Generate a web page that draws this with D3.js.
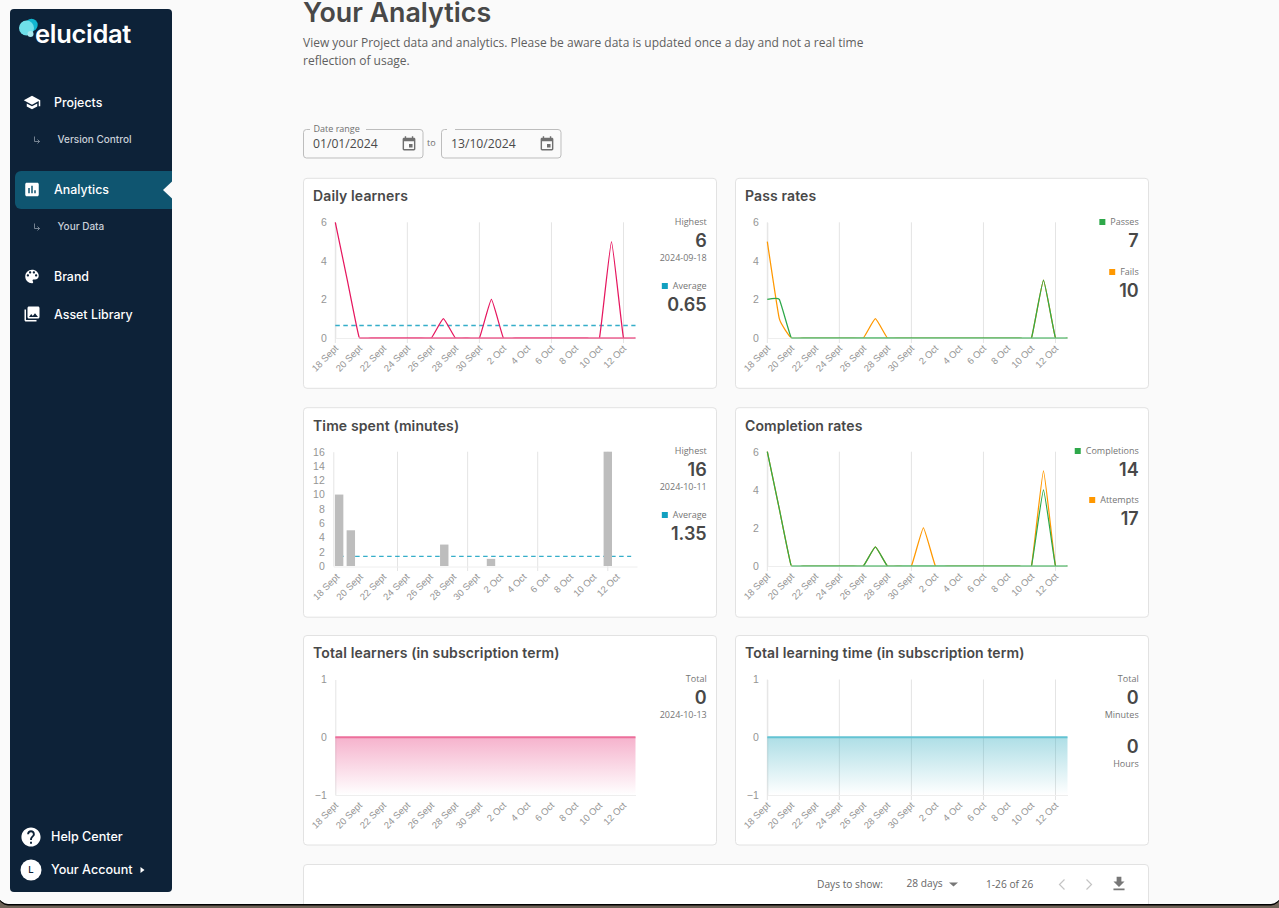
<!DOCTYPE html>
<html>
<head>
<meta charset="utf-8">
<style>
    html, body { margin: 0; padding: 0; background: #6e6357; overflow: hidden; }
    svg { display: block; }
    .head { font-family: Inter, sans-serif; font-weight: 600; fill: #484848; }
    .nav { font-family: Inter, sans-serif; font-weight: 500; fill: #fff; }
    .body { font-family: "Open Sans", sans-serif; fill: #5f5f5f; }
    .tick text { font-family: "Liberation Sans", sans-serif; font-size: 9.5px; fill: #959595; }
</style>
</head>
<body>
<svg id="page" width="1279" height="908"></svg>
<script src="https://cdn.jsdelivr.net/npm/d3@7"></script>
<script>
var days = ["18 Sept","19 Sept","20 Sept","21 Sept","22 Sept","23 Sept","24 Sept","25 Sept","26 Sept","27 Sept","28 Sept","29 Sept","30 Sept",
    "1 Oct","2 Oct","3 Oct","4 Oct","5 Oct","6 Oct","7 Oct","8 Oct","9 Oct","10 Oct","11 Oct","12 Oct","13 Oct"];
var gridDays = ["18 Sept","24 Sept","30 Sept","6 Oct","12 Oct"];
var gridDaysBar = ["23 Sept","29 Sept","5 Oct","11 Oct"];
var labelDays = days.filter(function(d, i){ return i % 2 == 0 });

var dailyLearners = [6,3,0,0,0,0,0,0,0,1,0,0,0,2,0,0,0,0,0,0,0,0,0,5,0,0];
var passes        = [2,2,0,0,0,0,0,0,0,0,0,0,0,0,0,0,0,0,0,0,0,0,0,3,0,0];
var fails         = [5,1,0,0,0,0,0,0,0,1,0,0,0,0,0,0,0,0,0,0,0,0,0,3,0,0];
var timeSpent     = [10,5,0,0,0,0,0,0,0,3,0,0,0,1,0,0,0,0,0,0,0,0,0,16,0,0];
var completions   = [6,3,0,0,0,0,0,0,0,1,0,0,0,0,0,0,0,0,0,0,0,0,0,4,0,0];
var attempts      = [6,3,0,0,0,0,0,0,0,1,0,0,0,2,0,0,0,0,0,0,0,0,0,5,0,0];
var totalLearners = [0,0,0,0,0,0,0,0,0,0,0,0,0,0,0,0,0,0,0,0,0,0,0,0,0,0];
var totalTime     = [0,0,0,0,0,0,0,0,0,0,0,0,0,0,0,0,0,0,0,0,0,0,0,0,0,0];
var learnerAverage = 0.65;
var timeAverage = 1.35;

var navMain = [["Projects", 102.5], ["Analytics", 189.5], ["Brand", 276.5], ["Asset Library", 314.5]];
var navSub = [["Version Control", 139.5], ["Your Data", 226.5]];

var PINK = "#e6175f", GREEN = "#2ea84a", ORANGE = "#ff9800", TEAL = "#12a0c0";

var icons = {
    school: "M5 13.18v4L12 21l7-3.82v-4L12 17l-7-3.82zM12 3 1 9l11 6 9-4.91V17h2V9L12 3z",
    chart: "M19 3H5c-1.1 0-2 .9-2 2v14c0 1.1.9 2 2 2h14c1.1 0 2-.9 2-2V5c0-1.1-.9-2-2-2zM9 17H7v-7h2v7zm4 0h-2V7h2v10zm4 0h-2v-4h2v4z",
    palette: "M12 3c-4.97 0-9 4.03-9 9s4.03 9 9 9c.83 0 1.5-.67 1.5-1.5 0-.39-.15-.74-.39-1.01-.23-.26-.38-.61-.38-.99 0-.83.67-1.5 1.5-1.5H16c2.76 0 5-2.24 5-5 0-4.42-4.03-8-9-8zm-5.5 9c-.83 0-1.5-.67-1.5-1.5S5.67 9 6.5 9 8 9.67 8 10.5 7.33 12 6.5 12zm3-4C8.67 8 8 7.33 8 6.5S8.67 5 9.5 5s1.5.67 1.5 1.5S10.33 8 9.5 8zm5 0c-.83 0-1.5-.67-1.5-1.5S13.67 5 14.5 5s1.5.67 1.5 1.5S15.33 8 14.5 8zm3 4c-.83 0-1.5-.67-1.5-1.5S16.67 9 17.5 9s1.5.67 1.5 1.5-.67 1.5-1.5 1.5z",
    photos: "M22 16V4c0-1.1-.9-2-2-2H8c-1.1 0-2 .9-2 2v12c0 1.1.9 2 2 2h12c1.1 0 2-.9 2-2zm-11-4l2.03 2.71L16 11l4 5H8l3-4zM2 6v14c0 1.1.9 2 2 2h14v-2H4V6H2z",
    event: "M17 12h-5v5h5v-5zM16 1v2H8V1H6v2H5c-1.11 0-1.99.9-1.99 2L3 19c0 1.1.89 2 2 2h14c1.1 0 2-.9 2-2V5c0-1.1-.9-2-2-2h-1V1h-2zm3 18H5V8h14v11z",
    help: "M12 2C6.48 2 2 6.48 2 12s4.48 10 10 10 10-4.48 10-10S17.52 2 12 2zm1 17h-2v-2h2v2zm2.07-7.75l-.9.92C13.45 12.9 13 13.5 13 15h-2v-.5c0-1.1.45-2.1 1.17-2.83l1.24-1.26c.37-.36.59-.86.59-1.41 0-1.1-.9-2-2-2s-2 .9-2 2H8c0-2.21 1.79-4 4-4s4 1.79 4 4c0 .88-.36 1.68-.93 2.25z",
    download: "M19 9h-4V3H9v6H5l7 7 7-7zM5 18v2h14v-2H5z"
};

var svg = d3.select("#page");
var defs = svg.append("defs");

function icon(name, x, y, size, color) {
    svg.append("path")
        .attr("d", icons[name])
        .attr("transform", "translate(" + x + "," + y + ") scale(" + size / 24 + ")")
        .attr("fill", color);
}

function label(parent, cls, str, x, y, size, color, anchor) {
    var t = parent.append("text")
        .attr("class", cls)
        .attr("x", x)
        .attr("y", y)
        .attr("dy", "0.35em")
        .attr("font-size", size)
        .attr("text-anchor", anchor || "start")
        .text(str);
    if (color) t.style("fill", color);
    return t;
}

// window + desktop strip at the bottom
svg.append("rect").attr("x", -1).attr("y", -20).attr("width", 1281).attr("height", 925.5).attr("rx", 9).attr("fill", "#000");
svg.append("rect").attr("x", -1).attr("y", -20).attr("width", 1281).attr("height", 924).attr("rx", 9).attr("fill", "#fafafa");

// sidebar
svg.append("rect").attr("x", 10).attr("y", 9).attr("width", 162).attr("height", 883).attr("rx", 4).attr("fill", "#0d2238");
svg.append("path").attr("d", "M172 171H21a6 6 0 0 0-6 6v26a6 6 0 0 0 6 6H172Z").attr("fill", "#0f5570");
svg.append("path").attr("d", "M172 181.5L163 190L172 198.5Z").attr("fill", "#fafafa");

svg.append("circle").attr("cx", 31.5).attr("cy", 25).attr("r", 6.2).attr("fill", "#12b5cf");
svg.append("circle").attr("cx", 26.5).attr("cy", 28).attr("r", 7.5).attr("fill", "#6fe0ea");
svg.append("circle").attr("cx", 30.5).attr("cy", 34).attr("r", 3).attr("fill", "#a8e9ef");
label(svg, "nav", "elucidat", 35, 34.5, 25.5, "#fff").style("font-weight", 600).style("letter-spacing", "-0.3px");

navMain.forEach(function(d){ label(svg, "nav", d[0], 54, d[1], 12.4, "#fff") });
navSub.forEach(function(d){
    label(svg, "nav", d[0], 57.5, d[1], 10, "#c9d0d8");
    svg.append("path")
        .attr("d", "M34.5 " + (d[1] - 3) + "v5h5m-2-2l2 2l-2 2")
        .attr("fill", "none").attr("stroke", "#8f9ba8").attr("stroke-width", 0.8);
});
icon("school", 23, 93.5, 18, "#fff");
icon("chart", 23, 180.5, 18, "#fff");
icon("palette", 23, 267.5, 18, "#fff");
icon("photos", 23, 305, 18, "#fff");

svg.append("circle").attr("cx", 31).attr("cy", 837).attr("r", 7).attr("fill", "#0d2238");
icon("help", 19.5, 825.5, 23, "#fff");
label(svg, "nav", "Help Center", 51, 837, 12.6, "#fff");
svg.append("circle").attr("cx", 31).attr("cy", 870).attr("r", 10.5).attr("fill", "#fff");
label(svg, "nav", "L", 31, 870, 9.5, "#0d2238", "middle");
label(svg, "nav", "Your Account", 51, 870, 12.6, "#fff");
svg.append("path").attr("d", "M140.5 867L144.5 870L140.5 873Z").attr("fill", "#fff");

// page heading
label(svg, "head", "Your Analytics", 303, 13, 26.8);
label(svg, "body", "View your Project data and analytics. Please be aware data is updated once a day and not a real time", 303, 43, 12);
label(svg, "body", "reflection of usage.", 303, 60.5, 12);

// date fields
[[303.5, "01/01/2024"], [441.5, "13/10/2024"]].forEach(function(d){
    svg.append("rect").attr("x", d[0]).attr("y", 129.5).attr("width", 119.5).attr("height", 28.5).attr("rx", 3)
        .attr("fill", "none").attr("stroke", "#bdbdbd");
    label(svg, "body", d[1], d[0] + 9.5, 144, 12.2, "#4a4a4a");
    icon("event", d[0] + 97, 135.5, 17, "#6f6f6f");
});
svg.append("rect").attr("x", 310).attr("y", 127).attr("width", 56).attr("height", 5).attr("fill", "#fafafa");
svg.append("rect").attr("x", 447).attr("y", 127).attr("width", 8).attr("height", 5).attr("fill", "#fafafa");
label(svg, "body", "Date range", 313.5, 129, 9, "#6f6f6f");
label(svg, "body", "to", 427, 143, 9, "#6f6f6f");

function card(x, y, w, h) {
    svg.append("rect").attr("x", x).attr("y", y).attr("width", w).attr("height", h).attr("rx", 3.5)
        .attr("fill", "#fff").attr("stroke", "#e2e2e2");
}

var chartCount = 0;

// card, title, gridlines and both axes for one chart
function chartFrame(opts) {
    card(opts.cardX, opts.top - 44, 413, opts.cardH);
    label(svg, "head", opts.title, opts.cardX + 9.5, opts.top - 26, 14).style("letter-spacing", "0.12px");

    var g = svg.append("g");
    var y = d3.scaleLinear().domain(opts.yDomain).range([opts.bottom, opts.top]);
    var x;
    if (opts.band) {
        x = d3.scaleBand().domain(days).range([opts.left, opts.right]).paddingInner(0.28).paddingOuter(0.14);
    } else {
        x = d3.scalePoint().domain(days).range([opts.left, opts.right]);
    }

    if (opts.gridDays) {
        g.append("g").selectAll("line").data(opts.gridDays).enter().append("line")
            .attr("x1", function(d){ return x(d) + (opts.band ? x.bandwidth() / 2 : 0) })
            .attr("x2", function(d){ return x(d) + (opts.band ? x.bandwidth() / 2 : 0) })
            .attr("y1", opts.top)
            .attr("y2", opts.bottom + 5)
            .attr("stroke", "#e4e4e4");
    }

    var yAxis = d3.axisLeft(y).tickValues(opts.yTicks).tickSize(0).tickPadding(8.5).tickFormat(d3.format("d"));
    var yg = g.append("g").attr("transform", "translate(" + opts.left + ",0)").call(yAxis);
    yg.select(".domain").attr("stroke", "#e4e4e4");
    yg.selectAll(".tick text").style("font-size", "10.5px");

    var xAxis = d3.axisBottom(x).tickValues(labelDays).tickSize(0);
    var xg = g.append("g").attr("transform", "translate(0," + opts.axisY + ")").call(xAxis);
    xg.select(".domain").attr("stroke", "#eeeeee");
    xg.selectAll(".tick text")
        .attr("text-anchor", "end")
        .attr("x", 0)
        .attr("y", 0)
        .attr("dy", 0)
        .attr("transform", "translate(" + (opts.band ? 1 : 3) + ",11) rotate(-45)");

    // sloped parts stop just above zero, the flat run is drawn by zeroRun
    chartCount++;
    var clipId = "plot" + chartCount;
    defs.append("clipPath").attr("id", clipId).append("rect")
        .attr("x", opts.left - 2).attr("y", opts.top - 6)
        .attr("width", opts.right - opts.left + 4).attr("height", opts.bottom - opts.top + 5.4);

    return { g: g, x: x, y: y, clipId: clipId, right: opts.right };
}

function drawLine(c, values, color) {
    var line = d3.line()
        .x(function(d, i){ return c.x(days[i]) })
        .y(function(d){ return c.y(d) })
        .curve(d3.curveCardinal.tension(0.65));
    c.g.append("path").datum(values).attr("d", line)
        .attr("clip-path", "url(#" + c.clipId + ")")
        .attr("fill", "none").attr("stroke", color).attr("stroke-width", 1.25);
}

// pale band along zero, from the first day the series touches it
function zeroRun(c, values, color) {
    c.g.append("line")
        .attr("x1", c.x(days[values.indexOf(0)]))
        .attr("x2", c.right)
        .attr("y1", c.y(0))
        .attr("y2", c.y(0))
        .attr("stroke", color).attr("stroke-width", 2).attr("opacity", 0.5);
}

function drawAverage(c, value, x1, x2) {
    c.g.append("line").attr("x1", x1).attr("x2", x2).attr("y1", c.y(value)).attr("y2", c.y(value))
        .attr("stroke", TEAL).attr("stroke-width", 1.4).attr("stroke-dasharray", "4.5,3.5").attr("opacity", 0.85);
}

function legendBlock(right, rows) {
    rows.forEach(function(r){
        var t = label(svg, "body", r.name, right, r.y, 9, "#757575", "end");
        if (r.color) {
            var w = t.node().getComputedTextLength();
            svg.append("rect").attr("x", right - w - 11).attr("y", r.y - 3).attr("width", 6).attr("height", 6).attr("fill", r.color);
        }
        if (r.value !== undefined) label(svg, "head", r.value, right, r.y + 18.5, 18, "#484848", "end");
        if (r.caption) label(svg, "body", r.caption, right, r.y + 36, 9, "#757575", "end");
    });
}

// Daily learners
var c1 = chartFrame({ title: "Daily learners", cardX: 303.5, left: 335.3, right: 635.5, top: 222.3, bottom: 338, axisY: 338, cardH: 210,
    yDomain: [0, 6], yTicks: [0, 2, 4, 6], gridDays: gridDays });
drawAverage(c1, learnerAverage, 335.3, 635.5);
drawLine(c1, dailyLearners, PINK);
zeroRun(c1, dailyLearners, PINK);
legendBlock(706.7, [
    { name: "Highest", y: 222, value: "6", caption: "2024-09-18" },
    { name: "Average", y: 286, color: TEAL, value: "0.65" }
]);

// Pass rates
var c2 = chartFrame({ title: "Pass rates", cardX: 735.5, left: 767.3, right: 1067.5, top: 222.3, bottom: 338, axisY: 338, cardH: 210,
    yDomain: [0, 6], yTicks: [0, 2, 4, 6], gridDays: gridDays });
drawLine(c2, fails, ORANGE);
drawLine(c2, passes, GREEN);
zeroRun(c2, passes, GREEN);
legendBlock(1138.7, [
    { name: "Passes", y: 222, color: GREEN, value: "7" },
    { name: "Fails", y: 272, color: ORANGE, value: "10" }
]);

// Time spent
var c3 = chartFrame({ title: "Time spent (minutes)", cardX: 303.5, left: 333.3, right: 637, top: 451.7, bottom: 566, axisY: 566.5, cardH: 209.5, band: true,
    yDomain: [0, 16], yTicks: d3.range(0, 17, 2), gridDays: gridDaysBar });
drawAverage(c3, timeAverage, c3.x(days[0]) + c3.x.bandwidth() / 2, c3.x(days[25]) + c3.x.bandwidth() / 2);
c3.g.append("g").selectAll("rect").data(timeSpent).enter().append("rect")
    .attr("x", function(d, i){ return c3.x(days[i]) })
    .attr("width", c3.x.bandwidth())
    .attr("y", function(d){ return c3.y(d) })
    .attr("height", function(d){ return c3.y(0) - c3.y(d) })
    .attr("fill", "#bdbdbd");
legendBlock(706.7, [
    { name: "Highest", y: 451, value: "16", caption: "2024-10-11" },
    { name: "Average", y: 515, color: TEAL, value: "1.35" }
]);

// Completion rates
var c4 = chartFrame({ title: "Completion rates", cardX: 735.5, left: 767.3, right: 1067.5, top: 451.7, bottom: 566, axisY: 566, cardH: 209.5,
    yDomain: [0, 6], yTicks: [0, 2, 4, 6], gridDays: gridDays });
drawLine(c4, attempts, ORANGE);
drawLine(c4, completions, GREEN);
zeroRun(c4, completions, GREEN);
legendBlock(1138.7, [
    { name: "Completions", y: 451, color: GREEN, value: "14" },
    { name: "Attempts", y: 500, color: ORANGE, value: "17" }
]);

// area gradients for the subscription charts
[["fadePink", "#e6357a"], ["fadeTeal", "#2aa9bd"]].forEach(function(d){
    var grad = defs.append("linearGradient").attr("id", d[0]).attr("x1", 0).attr("x2", 0).attr("y1", 0).attr("y2", 1);
    grad.append("stop").attr("offset", 0).attr("stop-color", d[1]).attr("stop-opacity", 0.38);
    grad.append("stop").attr("offset", 1).attr("stop-color", d[1]).attr("stop-opacity", 0);
});

function drawArea(c, values, fill, color) {
    var area = d3.area()
        .x(function(d, i){ return c.x(days[i]) })
        .y0(c.y(-1))
        .y1(function(d){ return c.y(d) });
    var line = d3.line()
        .x(function(d, i){ return c.x(days[i]) })
        .y(function(d){ return c.y(d) });
    c.g.append("path").datum(values).attr("d", area).attr("fill", "url(#" + fill + ")");
    c.g.append("path").datum(values).attr("d", line).attr("fill", "none").attr("stroke", color).attr("stroke-width", 2);
}

// Total learners
var c5 = chartFrame({ title: "Total learners (in subscription term)", cardX: 303.5, left: 335.3, right: 635.5, top: 679.5, bottom: 795, axisY: 795, cardH: 209.5,
    yDomain: [-1, 1], yTicks: [-1, 0, 1] });
drawArea(c5, totalLearners, "fadePink", "#ec6f9b");
legendBlock(706.7, [
    { name: "Total", y: 679, value: "0", caption: "2024-10-13" }
]);

// Total learning time
var c6 = chartFrame({ title: "Total learning time (in subscription term)", cardX: 735.5, left: 767.3, right: 1067.5, top: 679.5, bottom: 795, axisY: 795, cardH: 209.5,
    yDomain: [-1, 1], yTicks: [-1, 0, 1], gridDays: gridDays });
drawArea(c6, totalTime, "fadeTeal", "#63c3d3");
legendBlock(1138.7, [
    { name: "Total", y: 679, value: "0", caption: "Minutes" },
    { name: "", y: 728, value: "0", caption: "Hours" }
]);

// pagination bar
card(303.5, 864.5, 845, 60);
svg.append("rect").attr("x", 295).attr("y", 904).attr("width", 870).attr("height", 4).attr("fill", "#6e6357");
svg.append("rect").attr("x", 295).attr("y", 904).attr("width", 870).attr("height", 1.5).attr("fill", "#000");
label(svg, "body", "Days to show:", 817, 884.5, 10.2, "#666");
label(svg, "body", "28 days", 906.5, 883.5, 10.2, "#666");
svg.append("path").attr("d", "M949 882.5H958L953.5 886.5Z").attr("fill", "#777");
label(svg, "body", "1-26 of 26", 986, 884.5, 10.2, "#666");
svg.append("path").attr("d", "M1064.5 879.5L1059.5 884.5L1064.5 889.5").attr("fill", "none").attr("stroke", "#c4c4c4").attr("stroke-width", 1.2);
svg.append("path").attr("d", "M1086.5 879.5L1091.5 884.5L1086.5 889.5").attr("fill", "none").attr("stroke", "#c4c4c4").attr("stroke-width", 1.2);
icon("download", 1109.5, 874.3, 19, "#777");
</script>
</body>
</html>
